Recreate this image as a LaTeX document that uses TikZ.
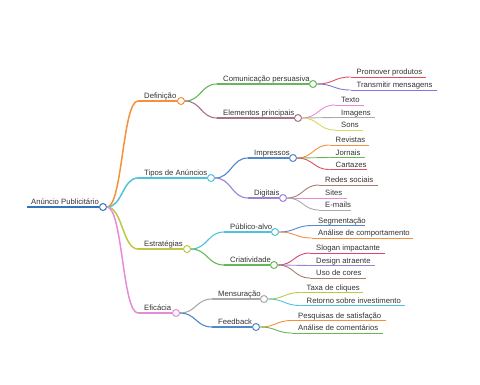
\documentclass[tikz,border=0pt]{standalone}
\usepackage{fontspec}
\setmainfont{Liberation Sans}
\usetikzlibrary{calc}
\definecolor{txt}{RGB}{51,51,51}
\definecolor{croot}{RGB}{50,115,185}
\definecolor{corange}{RGB}{245,145,60}
\definecolor{ccyan}{RGB}{80,195,220}
\definecolor{colive}{RGB}{190,200,70}
\definecolor{cpink}{RGB}{230,140,215}
\definecolor{cgreen}{RGB}{100,185,85}
\definecolor{cmauve}{RGB}{165,115,135}
\definecolor{cred}{RGB}{225,80,90}
\definecolor{cblue}{RGB}{80,135,205}
\definecolor{cpurple}{RGB}{155,130,215}
\definecolor{cgray}{RGB}{170,170,170}
\definecolor{cyellow}{RGB}{215,215,100}
\definecolor{cbrown}{RGB}{165,125,115}
\definecolor{ccrimson}{RGB}{215,70,110}
\definecolor{cindigo}{RGB}{125,120,220}
\tikzset{
  lbl/.style={font=\fontsize{7.7}{9}\selectfont, text=txt, inner sep=0pt, anchor=base west},
  dot/.style={circle, draw=#1, fill=white, minimum size=7pt, inner sep=0pt, line width=1pt},
  curve/.style={to path={let \p1=(\tikztostart), \p2=(\tikztotarget) in
     .. controls ({(\x1+\x2)/2},\y1) and ({(\x1+\x2)/2},\y2) .. (\tikztotarget)}},
  lw0/.style={line width=1.8pt},
  lw1/.style={line width=1.5pt},
  lw2/.style={line width=1.1pt},
  lw3/.style={line width=0.9pt},
}
% inner node: name, startx, y, circlex, colour, width style, text
\newcommand\inode[7]{%
  \coordinate (#1s) at (#2,#3);
  \node[dot=#5] (#1) at (#4,#3) {};
  \node[lbl] (#1t) at (#2+6,#3-2.5) {#7};
  \draw[#5,#6] (#1s) -- (#1.west);
}
% leaf: name, startx, y, endx, colour, text
\newcommand\leafnode[6]{%
  \coordinate (#1s) at (#2,#3);
  \coordinate (#1) at (#4,#3);
  \node[lbl] (#1t) at (#2+6,#3-2.5) {#6};
  \draw[#5,lw3] (#1s) -- (#1);
}
\begin{document}
\begin{tikzpicture}[x=1pt,y=-1pt]
\useasboundingbox (0,0) rectangle (480,384);
% root
\coordinate (roots) at (27,207);
\node[dot=croot] (root) at (103,207) {};
\node[lbl] (roott) at (31,204.5) {Anúncio Publicitário};
\draw[croot,lw0] (roots) -- (root.west);
% level 1
\inode{def}{138}{101}{181}{corange}{lw1}{Definição}
\inode{tip}{138}{178}{211}{ccyan}{lw1}{Tipos de Anúncios}
\inode{est}{138}{249}{187}{colive}{lw1}{Estratégias}
\inode{efi}{138}{313}{176}{cpink}{lw1}{Eficácia}
\draw[corange,lw1] (root.east) to[curve] (defs);
\draw[ccyan,lw1] (root.east) to[curve] (tips);
\draw[colive,lw1] (root.east) to[curve] (ests);
\draw[cpink,lw1] (root.east) to[curve] (efis);
% level 2
\inode{com}{217}{84}{313}{cgreen}{lw2}{Comunicação persuasiva}
\inode{ele}{217}{118}{298}{cmauve}{lw2}{Elementos principais}
\inode{imp}{248}{158}{293}{cblue}{lw2}{Impressos}
\inode{dig}{248}{198}{283}{cpurple}{lw2}{Digitais}
\inode{pub}{224}{232}{275}{ccyan}{lw2}{Público-alvo}
\inode{cri}{224}{265}{274}{cgreen}{lw2}{Criatividade}
\inode{men}{212}{299}{264}{cgray}{lw2}{Mensuração}
\inode{fee}{212}{327}{256}{cblue}{lw2}{Feedback}
\draw[cgreen,lw2] (def.east) to[curve] (coms);
\draw[cmauve,lw2] (def.east) to[curve] (eles);
\draw[cblue,lw2] (tip.east) to[curve] (imps);
\draw[cpurple,lw2] (tip.east) to[curve] (digs);
\draw[ccyan,lw2] (est.east) to[curve] (pubs);
\draw[cgreen,lw2] (est.east) to[curve] (cris);
\draw[cgray,lw2] (efi.east) to[curve] (mens);
\draw[cblue,lw2] (efi.east) to[curve] (fees);
% level 3
\leafnode{pro}{350.5}{77}{426}{cred}{Promover produtos}
\leafnode{tra}{350.5}{90}{437}{cindigo}{Transmitir mensagens}
\draw[cred,lw3] (com.east) to[curve] (pros);
\draw[cindigo,lw3] (com.east) to[curve] (tras);
\leafnode{tex}{335}{105}{364}{cpink}{Texto}
\leafnode{ima}{335}{117.5}{375}{cgray}{Imagens}
\leafnode{son}{335}{130}{363}{cyellow}{Sons}
\draw[cpink,lw3] (ele.east) to[curve] (texs);
\draw[cgray,lw3] (ele.east) to[curve] (imas);
\draw[cyellow,lw3] (ele.east) to[curve] (sons);
\leafnode{rev}{329.5}{145}{369}{corange}{Revistas}
\leafnode{jor}{329.5}{157.5}{365}{cgreen}{Jornais}
\leafnode{car}{329.5}{169.5}{367}{cred}{Cartazes}
\draw[corange,lw3] (imp.east) to[curve] (revs);
\draw[cgreen,lw3] (imp.east) to[curve] (jors);
\draw[cred,lw3] (imp.east) to[curve] (cars);
\leafnode{red}{319}{185}{378}{cbrown}{Redes sociais}
\leafnode{sit}{319}{198}{347}{cpink}{Sites}
\leafnode{ema}{319}{210}{351}{cgray}{E-mails}
\draw[cbrown,lw3] (dig.east) to[curve] (reds);
\draw[cpink,lw3] (dig.east) to[curve] (sits);
\draw[cgray,lw3] (dig.east) to[curve] (emas);
\leafnode{seg}{312}{225.5}{365}{cblue}{Segmentação}
\leafnode{ana}{312}{238}{413}{corange}{Análise de comportamento}
\draw[cblue,lw3] (pub.east) to[curve] (segs);
\draw[corange,lw3] (pub.east) to[curve] (anas);
\leafnode{slo}{310}{253}{385}{ccrimson}{Slogan impactante}
\leafnode{des}{310}{265.5}{375}{cpurple}{Design atraente}
\leafnode{uso}{310}{278}{366}{cbrown}{Uso de cores}
\draw[ccrimson,lw3] (cri.east) to[curve] (slos);
\draw[cpurple,lw3] (cri.east) to[curve] (dess);
\draw[cbrown,lw3] (cri.east) to[curve] (usos);
\leafnode{tax}{300.5}{292.5}{363}{colive}{Taxa de cliques}
\leafnode{ret}{300.5}{305.5}{405}{ccyan}{Retorno sobre investimento}
\draw[colive,lw3] (men.east) to[curve] (taxs);
\draw[ccyan,lw3] (men.east) to[curve] (rets);
\leafnode{pes}{292}{320.5}{386}{corange}{Pesquisas de satisfação}
\leafnode{acm}{292}{333}{383}{cgreen}{Análise de comentários}
\draw[corange,lw3] (fee.east) to[curve] (pess);
\draw[cgreen,lw3] (fee.east) to[curve] (acms);
\end{tikzpicture}
\end{document}
